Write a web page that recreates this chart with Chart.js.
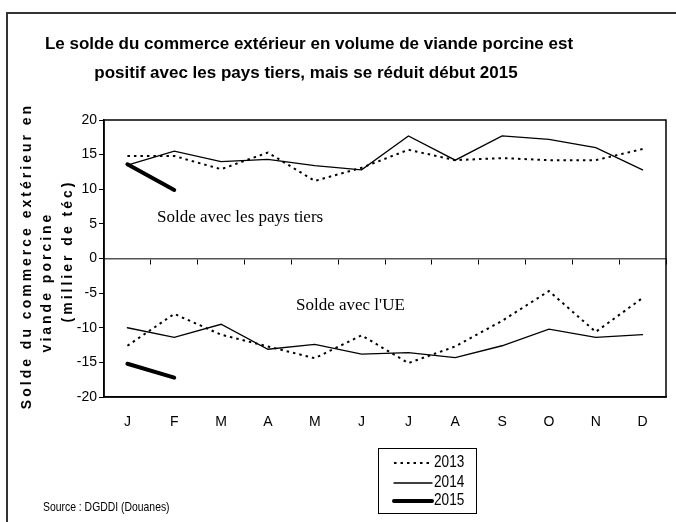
<!DOCTYPE html>
<html>

<head>
    <title>Solde du commerce extérieur - viande porcine</title>
    <script src="https://cdn.jsdelivr.net/npm/chart.js"></script>
    <style>
        body { margin: 0; background: #fff; }
    </style>
</head>

<body>
    <canvas id="chart" width="676" height="522"></canvas>

    <script>
        // Months (category axis)
        const months = ['J', 'F', 'M', 'A', 'M', 'J', 'J', 'A', 'S', 'O', 'N', 'D'];
        const years = ['2013', '2014', '2015'];

        // Solde avec les pays tiers (millier de téc)
        const tiers2013 = [14.8, 14.8, 12.9, 15.3, 11.2, 13.1, 15.7, 14.2, 14.5, 14.2, 14.2, 15.8];
        const tiers2014 = [13.5, 15.5, 14.0, 14.3, 13.4, 12.8, 17.7, 14.2, 17.7, 17.2, 16.0, 12.8];
        const tiers2015 = [13.6, 9.9];

        // Solde avec l'UE (millier de téc)
        const ue2013 = [-12.6, -8.0, -11.0, -12.7, -14.4, -11.1, -15.1, -12.7, -9.0, -4.7, -10.6, -5.7];
        const ue2014 = [-10.0, -11.4, -9.5, -13.1, -12.4, -13.8, -13.6, -14.3, -12.6, -10.2, -11.4, -11.0];
        const ue2015 = [-15.2, -17.2];

        // Value axis
        const yMin = -20;
        const yMax = 20;
        const yStep = 5;

        const titleLines = [
            'Le solde du commerce extérieur en volume de viande porcine est',
            'positif avec les pays tiers, mais se réduit début 2015'
        ];
        const yTitleLines = ['Solde du commerce extérieur en', 'viande porcine', '(millier de téc)'];

        // line style per year
        const yearStyle = {
            '2013': { borderWidth: 2, borderDash: [2.5, 4], borderCapStyle: 'butt' },
            '2014': { borderWidth: 1.3, borderDash: [], borderCapStyle: 'round' },
            '2015': { borderWidth: 4, borderDash: [], borderCapStyle: 'round' }
        };

        function makeSet(year, data) {
            return Object.assign({
                label: year,
                data: data,
                borderColor: '#000',
                backgroundColor: '#000',
                pointRadius: 0,
                pointHoverRadius: 0,
                tension: 0,
                fill: false
            }, yearStyle[year]);
        }

        const sans = '"Liberation Sans", Arial, sans-serif';
        const serif = '"Liberation Serif", "Times New Roman", serif';

        // narrow text, like Arial Narrow
        function narrowText(ctx, text, x, y, squeeze) {
            ctx.save();
            ctx.translate(x, y);
            ctx.scale(squeeze, 1);
            ctx.fillText(text, 0, 0);
            ctx.restore();
        }

        // frame, titles, annotations and legend box
        const decorations = {
            id: 'decorations',
            beforeDraw(chart) {
                const ctx = chart.ctx;
                ctx.save();
                ctx.strokeStyle = '#333';
                ctx.lineWidth = 2;
                ctx.beginPath();
                ctx.moveTo(7, 522);
                ctx.lineTo(7, 13);
                ctx.lineTo(676, 13);
                ctx.stroke();
                ctx.restore();
            },
            beforeDatasetsDraw(chart) {
                const ctx = chart.ctx;
                const a = chart.chartArea;
                ctx.save();
                ctx.strokeStyle = '#000';
                ctx.lineWidth = 1.5;
                ctx.strokeRect(a.left, a.top, a.right - a.left, a.bottom - a.top);
                ctx.restore();
            },
            afterDraw(chart) {
                const ctx = chart.ctx;
                ctx.save();
                ctx.fillStyle = '#000';

                // title
                ctx.font = 'bold 17px ' + sans;
                ctx.textAlign = 'center';
                ctx.textBaseline = 'middle';
                ctx.fillText(titleLines[0], 309, 44);
                ctx.fillText(titleLines[1], 306, 73);

                // y title, rotated, letter spaced
                ctx.font = 'bold 14px ' + sans;
                ctx.letterSpacing = '3px';
                const yCols = [[27, 256], [47, 282], [68, 251]];
                yTitleLines.forEach((t, i) => {
                    ctx.save();
                    ctx.translate(yCols[i][0], yCols[i][1]);
                    ctx.rotate(-Math.PI / 2);
                    ctx.fillText(t, 0, 0);
                    ctx.restore();
                });
                ctx.letterSpacing = '0px';

                // panel annotations
                ctx.font = '17px ' + serif;
                ctx.textAlign = 'left';
                ctx.fillText('Solde avec les pays tiers', 157, 218);
                ctx.fillText("Solde avec l'UE", 296, 306);

                // source
                ctx.font = '13px ' + sans;
                narrowText(ctx, 'Source : DGDDI (Douanes)', 43, 507, 0.8);

                // legend box
                ctx.strokeStyle = '#000';
                ctx.lineWidth = 1;
                ctx.strokeRect(378.5, 448.5, 98, 65);
                ctx.font = '16px ' + sans;
                const rows = [463, 483, 501];
                years.forEach((y, i) => {
                    const ds = chart.data.datasets.find(d => d.label === y);
                    ctx.save();
                    ctx.lineWidth = ds.borderWidth;
                    ctx.setLineDash(ds.borderDash);
                    ctx.lineCap = ds.borderCapStyle;
                    ctx.beginPath();
                    ctx.moveTo(394, rows[i]);
                    ctx.lineTo(432, rows[i]);
                    ctx.stroke();
                    ctx.restore();
                    narrowText(ctx, y, 434, rows[i], 0.85);
                });
                ctx.restore();
            }
        };

        const ctx = document.getElementById('chart').getContext('2d');
        const chart = new Chart(ctx, {
            type: 'line',
            data: {
                labels: months,
                datasets: [
                    makeSet('2013', tiers2013),
                    makeSet('2014', tiers2014),
                    makeSet('2015', tiers2015),
                    makeSet('2013', ue2013),
                    makeSet('2014', ue2014),
                    makeSet('2015', ue2015)
                ]
            },
            options: {
                responsive: false,
                animation: false,
                layout: {
                    padding: { left: 64, right: 10, top: 120, bottom: 85 }
                },
                plugins: {
                    legend: { display: false },
                    tooltip: { enabled: false },
                    title: { display: false }
                },
                scales: {
                    x: {
                        type: 'category',
                        position: 'bottom',
                        offset: true,
                        grid: { display: false, drawTicks: false },
                        border: { display: true, color: '#000', width: 1.5 },
                        ticks: {
                            color: '#000',
                            font: { family: sans, size: 14 },
                            padding: 17,
                            maxRotation: 0,
                            autoSkip: false
                        },
                        afterFit(s) { s.height = 40; }
                    },
                    // zero line with tick marks between months
                    x0: {
                        type: 'category',
                        position: { y: 0 },
                        offset: true,
                        grid: {
                            display: true,
                            offset: true,
                            drawOnChartArea: false,
                            drawTicks: true,
                            tickLength: 5,
                            color: '#000',
                            lineWidth: 1
                        },
                        border: { display: true, color: '#555', width: 1.5 },
                        ticks: { display: false }
                    },
                    y: {
                        min: yMin,
                        max: yMax,
                        grid: {
                            display: true,
                            drawOnChartArea: false,
                            drawTicks: true,
                            tickLength: 5,
                            color: '#000'
                        },
                        border: { display: true, color: '#000', width: 1.5 },
                        ticks: {
                            stepSize: yStep,
                            color: '#000',
                            font: { family: sans, size: 14 },
                            padding: 2
                        },
                        afterFit(s) { s.width = 40; }
                    }
                }
            },
            plugins: [decorations]
        });
    </script>
</body>

</html>
